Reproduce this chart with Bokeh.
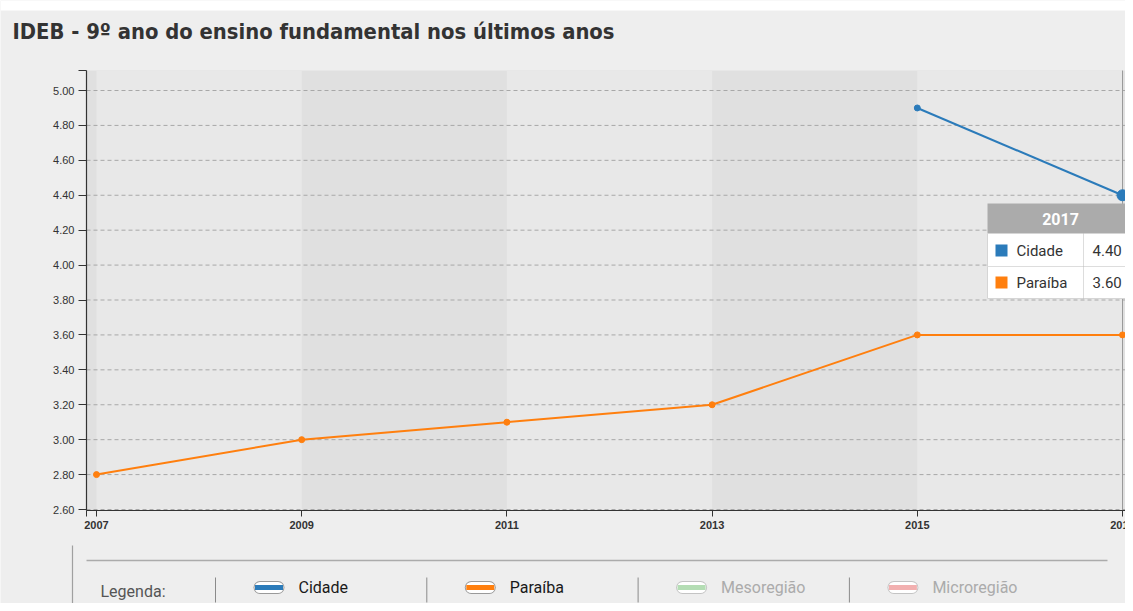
from bokeh.plotting import figure
from bokeh.models import Range1d, FixedTicker, ColumnDataSource, LinearAxis, NumeralTickFormatter
from bokeh.embed import file_html
from bokeh.resources import INLINE
from bokeh.core.properties import value
import numpy as np

# ---------------- data ----------------
title_text = "IDEB - 9º ano do ensino fundamental nos últimos anos"
years = [2007, 2009, 2011, 2013, 2015, 2017]
cidade = [np.nan, np.nan, np.nan, np.nan, 4.90, 4.40]
paraiba = [2.80, 3.00, 3.10, 3.20, 3.60, 3.60]
y_ticks = [2.6, 2.8, 3.0, 3.2, 3.4, 3.6, 3.8, 4.0, 4.2, 4.4, 4.6, 4.8, 5.0]
series_names = ["Cidade", "Paraíba"]
legend_names = ["Cidade", "Paraíba", "Mesoregião", "Microregião"]
hover_year = 2017
tooltip_values = ["4.40", "3.60"]

# ---------------- style ----------------
BLUE = "#2b7bba"
ORANGE = "#ff7f0e"
PAGE_BG = "#eeeeee"
BAND_DARK = "#e0e0e0"
BAND_LIGHT = "#e8e8e8"

W, H = 1125, 603
# chart area in canvas pixels
FR_L, FR_R, FR_T, FR_B = 86, 1131, 70, 510
PX_YEAR = (1122 - 96) / 10.0
PX_UNIT = (509 - 90) / 2.4


def X(px):  # canvas pixel -> year
    return years[0] + (px - 96) / PX_YEAR


def Y(py):  # canvas pixel -> value
    return y_ticks[-1] - (py - 90) / PX_UNIT


x_start, x_end = X(FR_L), X(FR_R)
y_start, y_end = Y(FR_B), Y(FR_T)

p = figure(width=W, height=H, output_backend="svg", toolbar_location=None,
           x_range=Range1d(X(0), X(W)), y_range=Range1d(Y(H), Y(0)),
           min_border=0, x_axis_type=None, y_axis_type=None)
p.border_fill_color = PAGE_BG
p.background_fill_color = PAGE_BG
p.outline_line_color = None
p.grid.visible = False

# white strip at very top
p.quad(left=[X(0)], right=[X(W)], top=[Y(0)], bottom=[Y(10)], fill_color="#ffffff", line_color=None)

# title
p.text([X(12)], [Y(30.5)], text=[title_text], text_font=value("DejaVu Sans Condensed"),
       text_font_size="21.8px", text_font_style="bold", text_color="#333333",
       text_baseline="alphabetic")

# chart background bands
p.quad(left=[x_start], right=[x_end], bottom=[y_start], top=[y_end], fill_color=BAND_DARK, line_color=None)
p.quad(left=years[0::2], right=years[1::2], bottom=y_start, top=y_end,
       fill_color=BAND_LIGHT, line_color=None)

# horizontal dashed grid
p.segment(x0=[x_start] * len(y_ticks), x1=[x_end] * len(y_ticks), y0=y_ticks, y1=y_ticks,
          line_color="#a8a8a8", line_dash="4 3", line_width=1)

# axes at fixed locations
yax = LinearAxis(fixed_location=x_start, bounds=(y_start, y_end),
                 ticker=FixedTicker(ticks=y_ticks + [y_end]),
                 formatter=NumeralTickFormatter(format="0.00"))
yax.major_label_overrides = {y_end: ""}
yax.major_tick_out = 8
yax.major_label_standoff = 4
xax = LinearAxis(fixed_location=y_start, bounds=(x_start, x_end),
                 ticker=FixedTicker(ticks=years + [x_start]))
ovr = {y: str(y) for y in years}
ovr[x_start] = ""
xax.major_label_overrides = ovr
xax.major_tick_out = 6
xax.major_label_standoff = 4
xax.major_label_text_font_style = "bold"
for ax in (xax, yax):
    ax.axis_line_color = "#333333"
    ax.axis_line_width = 1.2
    ax.major_tick_line_color = "#333333"
    ax.major_tick_in = 0
    ax.minor_tick_line_color = None
    ax.major_label_text_font = "Liberation Sans"
    ax.major_label_text_font_size = "11px"
    ax.major_label_text_color = "#333333"
p.add_layout(yax, "left")
p.add_layout(xax, "below")

# hover crosshair
p.segment(x0=[hover_year], x1=[hover_year], y0=[y_start], y1=[y_end], line_color="#9a9a9a", line_width=1)

# series
src = ColumnDataSource(dict(year=years, cidade=cidade, paraiba=paraiba))
p.line("year", "paraiba", source=src, line_color=ORANGE, line_width=2)
p.scatter("year", "paraiba", source=src, size=6, fill_color=ORANGE, line_color=ORANGE)
p.line("year", "cidade", source=src, line_color=BLUE, line_width=2)
p.scatter("year", "cidade", source=src, size=6, fill_color=BLUE, line_color=BLUE)
hi = years.index(hover_year)
p.scatter([hover_year], [cidade[hi]], size=11, fill_color=BLUE, line_color=BLUE)

# tooltip
tl, tr = X(987), X(1140)
p.quad(left=[tl], right=[tr], top=[Y(203)], bottom=[Y(233)], fill_color="#ababab", line_color=None)
p.quad(left=[tl], right=[tr], top=[Y(233)], bottom=[Y(298)], fill_color="#ffffff", line_color="#d5d5d5")
p.segment(x0=[tl], x1=[tr], y0=[Y(266)], y1=[Y(266)], line_color="#dddddd", line_width=1)
p.segment(x0=[X(1083)], x1=[X(1083)], y0=[Y(233)], y1=[Y(298)], line_color="#bbbbbb", line_dash="1 1")
p.text([X(1060)], [Y(218)], text=[str(hover_year)], text_color="white",
       text_font=value("Roboto"), text_font_size="16px", text_font_style="bold",
       text_align="center", text_baseline="middle")
row_y = [Y(250), Y(282)]
sq = ColumnDataSource(dict(x=[X(1001)] * 2, y=row_y, c=[BLUE, ORANGE]))
p.scatter("x", "y", source=sq, marker="square", size=12, fill_color="c", line_color=None)
tt = ColumnDataSource(dict(x=[X(1016)] * 2, xv=[X(1092)] * 2, y=row_y,
                           name=series_names, val=tooltip_values))
p.text("x", "y", text="name", source=tt, text_font=value("Roboto"), text_font_size="15px",
       text_color="#333333", text_baseline="middle")
p.text("xv", "y", text="val", source=tt, text_font=value("Roboto"), text_font_size="15px",
       text_color="#333333", text_baseline="middle")

# ---------------- legend strip ----------------
p.segment(x0=[X(72)], x1=[X(72)], y0=[Y(545)], y1=[Y(H + 5)], line_color="#a0a0a0", line_width=1.2)
p.segment(x0=[X(86)], x1=[X(1107)], y0=[Y(560)], y1=[Y(560)], line_color="#ababab", line_width=1.5)
p.text([X(100)], [Y(591)], text=["Legenda:"], text_font=value("Roboto"), text_font_size="16px",
       text_color="#555555", text_baseline="middle")
n = len(legend_names)
sep_px = [215 + 211.3 * i for i in range(n)]
p.segment(x0=[X(s) for s in sep_px], x1=[X(s) for s in sep_px], y0=[Y(577)] * n, y1=[Y(602)] * n,
          line_color="#8a8a8a", line_width=1)
sw_col = [BLUE, ORANGE, "#b4ddb4", "#f2b0b0"]
sw_out = ["#9a9a9a", "#9a9a9a", "#c4c4c4", "#c4c4c4"]
txt_col = ["#1a1a1a", "#1a1a1a", "#ababab", "#ababab"]
lsrc = ColumnDataSource(dict(
    x0=[X(s + 44.5) for s in sep_px], x1=[X(s + 62.5) for s in sep_px],
    s0=[X(s + 39.5) for s in sep_px], s1=[X(s + 67.5) for s in sep_px],
    tx=[X(s + 83) for s in sep_px], y=[Y(587)] * n, name=legend_names,
    c=sw_col, o=sw_out, tc=txt_col))
p.segment("x0", "y", "x1", "y", source=lsrc, line_color="o", line_width=13, line_cap="round")
p.segment("x0", "y", "x1", "y", source=lsrc, line_color="#ffffff", line_width=11, line_cap="round")
p.segment("s0", "y", "s1", "y", source=lsrc, line_color="c", line_width=5, line_cap="butt")
p.text("tx", "y", text="name", source=lsrc, text_font=value("Roboto"), text_font_size="16px",
       text_color="tc", text_baseline="middle")

open("out.html", "w").write(file_html(p, INLINE))
